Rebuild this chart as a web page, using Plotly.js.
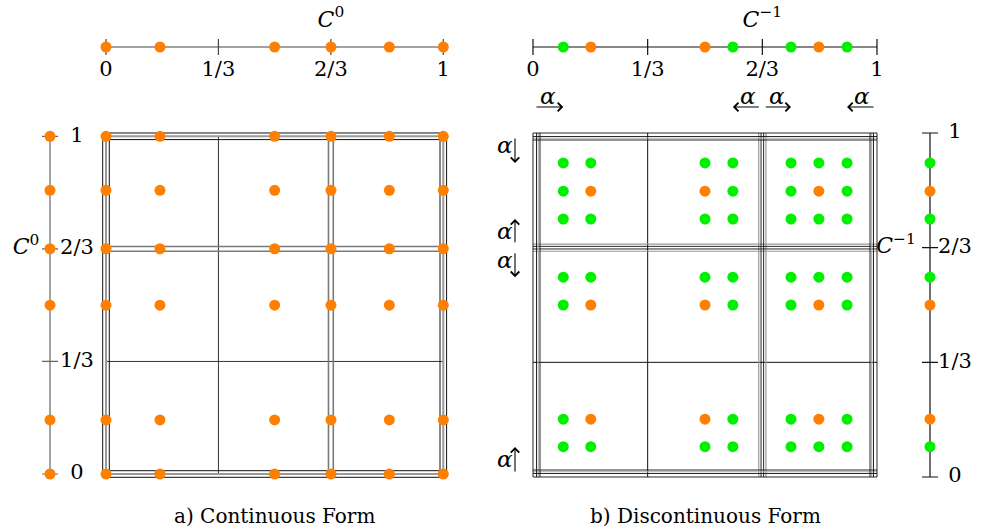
<!DOCTYPE html>
<html><head><meta charset="utf-8">
<script src="https://cdn.plot.ly/plotly-3.0.1.min.js"></script>
<style>html,body{margin:0;padding:0;background:#fff;} #chart{width:986px;height:529px;}</style>
</head><body><div id="chart"></div>
<script>
// ---------------- data ----------------
const gridTicks = [0, 0.3333, 0.6667, 1];
const gridTickText = ["0", "1/3", "2/3", "1"];
const contNodes = [0, 0.16, 0.5, 0.667, 0.84, 1];          // C0 nodes (orange)
const discOrangeNodes = [0.168, 0.5, 0.831];               // C-1 nodes kept from C0 (orange)
const discGreenNodes = [0.088, 0.581, 0.75, 0.913];        // C-1 nodes shifted by alpha (green)
const alphaFromX = [0, 0.6667, 0.6667, 1];
const alphaToX = [0.088, 0.581, 0.75, 0.913];
const alphaFromY = [1, 0.6667, 0.6667, 0];
const alphaToY = [0.913, 0.75, 0.581, 0.087];
const captions = ["a) Continuous Form", "b) Discontinuous Form"];
const spaceTitles = ["<i>C</i><sup>0</sup>", "<i>C</i><sup>−1</sup>"];
const alphaLabel = "<i>α</i>";

// ---------------- layout geometry (pixels) ----------------
const W = 986, H = 529;
const A = {x0: 106, x1: 443.3, y0: 474, y1: 136.3};
const B = {x0: 533, x1: 877, y0: 477, y1: 133};
const R = [-0.06, 1.06];
const ORANGE = '#ff8000', GREEN = '#00f000';
const FONT = 'DejaVu Serif';

function xdom(p0, p1, r) { const s = p1 - p0; return [(p0 + r[0]*s)/W, (p0 + r[1]*s)/W]; }
function ydom(p0, p1, r) { const s = p0 - p1; return [1 - (p0 - r[0]*s)/H, 1 - (p0 - r[1]*s)/H]; }

const sxA = A.x1 - A.x0, syA = A.y0 - A.y1;
const sxB = B.x1 - B.x0, syB = B.y0 - B.y1;

function gridLines(vals, offs, sx, sy, inward) {
  const x = [], y = [];
  vals.forEach(v => {
    const sgn = inward ? (v < 0.5 ? 1 : -1) : 1;
    offs.forEach(o => {
      const dx = v + sgn*o/sx; x.push(dx, dx, null); y.push(0, 1, null);
      const dy = v + sgn*o/sy; x.push(0, 1, null); y.push(dy, dy, null);
    });
  });
  return {x, y};
}
function lineTrace(seg, xa, ya, color, width) {
  return {type:'scatter', mode:'lines', x:seg.x, y:seg.y, xaxis:xa, yaxis:ya,
          line:{color:color, width:width}, hoverinfo:'skip', showlegend:false};
}
function dotTrace(xs, ys, colors, xa, ya) {
  return {type:'scatter', mode:'markers', x:xs, y:ys, xaxis:xa, yaxis:ya, cliponaxis:false,
          marker:{size:11, color:colors, line:{width:0}}, hoverinfo:'skip', showlegend:false};
}
function textTrace(xs, ys, texts, xa, ya, size) {
  return {type:'scatter', mode:'text', x:xs, y:ys, text:texts, xaxis:xa, yaxis:ya, cliponaxis:false,
          textposition:'middle center', textfont:{family:FONT, size:size||21, color:'#000'},
          hoverinfo:'skip', showlegend:false};
}

const traces = [];
const edges = [gridTicks[0], gridTicks[3]];
const third = [gridTicks[1]];
const twoThird = [gridTicks[2]];

// ---- panel a grid ----
traces.push(lineTrace(gridLines(third, [0], sxA, syA, false), 'x', 'y', '#333', 1));
traces.push(lineTrace(gridLines(twoThird, [-2.4, 2.4], sxA, syA, false), 'x', 'y', '#7a7a7a', 1.6));
traces.push(lineTrace(gridLines(edges, [0], sxA, syA, false), 'x', 'y', '#9a9a9a', 2));
traces.push(lineTrace(gridLines(edges, [-3.3, 3.3], sxA, syA, false), 'x', 'y', '#111', 1));

// ---- panel b grid ----
traces.push(lineTrace(gridLines(third, [0], sxB, syB, false), 'x2', 'y2', '#111', 1));
traces.push(lineTrace(gridLines(twoThird, [-3.6, 3.6], sxB, syB, false), 'x2', 'y2', '#999', 1.2));
traces.push(lineTrace(gridLines(twoThird, [-1.3, 1.3], sxB, syB, false), 'x2', 'y2', '#111', 0.9));
traces.push(lineTrace(gridLines(edges, [5.3], sxB, syB, true), 'x2', 'y2', '#aaa', 1.1));
traces.push(lineTrace(gridLines(edges, [0, 3.5, 7], sxB, syB, true), 'x2', 'y2', '#111', 0.9));

// ---- panel a dots ----
(function(){
  const xs = [], ys = [];
  contNodes.forEach(yv => contNodes.forEach(xv => { xs.push(xv); ys.push(yv); }));
  traces.push(dotTrace(xs, ys, ORANGE, 'x', 'y'));
})();

// ---- panel b dots ----
const discNodes = discGreenNodes.concat(discOrangeNodes).sort((a, b) => a - b);
const isOrange = v => discOrangeNodes.includes(v);
(function(){
  const xs = [], ys = [], cs = [];
  discNodes.forEach(yv => discNodes.forEach(xv => {
    xs.push(xv); ys.push(yv); cs.push(isOrange(xv) && isOrange(yv) ? ORANGE : GREEN);
  }));
  traces.push(dotTrace(xs, ys, cs, 'x2', 'y2'));
})();

// ---- 1D axes: top (horizontal) ----
function hAxis(xa, lineColor, nodes, colors, title) {
  traces.push(lineTrace({x:[gridTicks[0], gridTicks[3]], y:[0, 0]}, xa, 'y3', lineColor, 1.2));
  const tx = [], ty = [];
  gridTicks.forEach(t => { tx.push(t, t, null); ty.push(-8, 8, null); });
  traces.push(lineTrace({x:tx, y:ty}, xa, 'y3', lineColor, 1.2));
  traces.push(dotTrace(nodes, nodes.map(() => 0), colors, xa, 'y3'));
  traces.push(textTrace(gridTicks, gridTicks.map(() => -24), gridTickText, xa, 'y3'));
  traces.push(textTrace([gridTicks[2]], [26], [title], xa, 'y3', 22));
}
hAxis('x', '#444', contNodes, ORANGE, spaceTitles[0]);
hAxis('x2', '#111', discNodes, discNodes.map(v => isOrange(v) ? ORANGE : GREEN), spaceTitles[1]);

// ---- 1D axes: vertical ----
function vAxis(xa, ya, lineColor, nodes, colors, title, labelX, titleX) {
  traces.push(lineTrace({x:[0, 0], y:[gridTicks[0], gridTicks[3]]}, xa, ya, lineColor, 1.2));
  const tx = [], ty = [];
  gridTicks.forEach(t => { tx.push(-8, 8, null); ty.push(t, t, null); });
  traces.push(lineTrace({x:tx, y:ty}, xa, ya, lineColor, 1.2));
  traces.push(dotTrace(nodes.map(() => 0), nodes, colors, xa, ya));
  traces.push(textTrace(gridTicks.map(() => labelX), gridTicks, gridTickText, xa, ya));
  traces.push(textTrace([titleX], [gridTicks[2]], [title], xa, ya, 22));
}
vAxis('x5', 'y', '#666', contNodes, ORANGE, spaceTitles[0], 27, -24);
vAxis('x6', 'y2', '#111', discNodes, discNodes.map(v => isOrange(v) ? ORANGE : GREEN), spaceTitles[1], 25, -34);

// ---- alpha arrows (annotations) ----
const annotations = [];
alphaFromX.forEach((f, i) => {
  annotations.push({xref:'x2', yref:'y3', axref:'x2', ayref:'y3', x:alphaToX[i], y:-60, ax:f, ay:-60,
    showarrow:true, arrowhead:4, arrowsize:1.5, arrowwidth:1.1, arrowcolor:'#000', startstandoff:2, standoff:0, text:''});
  annotations.push({xref:'x2', yref:'y3', x:(f + alphaToX[i])/2, y:-49, text:alphaLabel, showarrow:false,
    font:{family:FONT, size:23, color:'#000'}, xanchor:'center', yanchor:'middle'});
});
alphaFromY.forEach((f, i) => {
  annotations.push({xref:'x7', yref:'y2', axref:'x7', ayref:'y2', x:0, y:alphaToY[i], ax:0, ay:f,
    showarrow:true, arrowhead:4, arrowsize:1.5, arrowwidth:1.1, arrowcolor:'#000', startstandoff:4, standoff:0, text:''});
  annotations.push({xref:'x7', yref:'y2', x:-10, y:(f + alphaToY[i])/2 + 0.008, text:alphaLabel, showarrow:false,
    font:{family:FONT, size:23, color:'#000'}, xanchor:'center', yanchor:'middle'});
});
// captions
annotations.push({xref:'x', yref:'paper', x:0.5, y:1 - 516/H, text:captions[0], showarrow:false,
  font:{family:FONT, size:20, color:'#000'}, xanchor:'center', yanchor:'middle'});
annotations.push({xref:'x2', yref:'paper', x:0.5, y:1 - 516/H, text:captions[1], showarrow:false,
  font:{family:FONT, size:20, color:'#000'}, xanchor:'center', yanchor:'middle'});

const hidden = {visible:false, showgrid:false, zeroline:false, fixedrange:true, autorange:false};
const layout = {
  width:W, height:H, margin:{l:0, r:0, t:0, b:0, pad:0},
  paper_bgcolor:'#fff', plot_bgcolor:'rgba(0,0,0,0)', showlegend:false, hovermode:false,
  font:{family:FONT},
  xaxis: Object.assign({}, hidden, {domain:xdom(A.x0, A.x1, R), range:R, anchor:'y'}),
  yaxis: Object.assign({}, hidden, {domain:ydom(A.y0, A.y1, R), range:R, anchor:'x'}),
  xaxis2: Object.assign({}, hidden, {domain:xdom(B.x0, B.x1, R), range:R, anchor:'y2'}),
  yaxis2: Object.assign({}, hidden, {domain:ydom(B.y0, B.y1, R), range:R, anchor:'x2'}),
  yaxis3: Object.assign({}, hidden, {domain:[1 - 125/H, 1], range:[47 - 125, 47], anchor:'x'}),
  xaxis5: Object.assign({}, hidden, {domain:[0, 100/W], range:[-50, 50], anchor:'y'}),
  xaxis6: Object.assign({}, hidden, {domain:[870/W, 1], range:[-60, 56], anchor:'y2'}),
  xaxis7: Object.assign({}, hidden, {domain:[480/W, 530/W], range:[-35, 15], anchor:'y2'}),
  annotations: annotations
};
Plotly.newPlot('chart', traces, layout, {staticPlot:true, displayModeBar:false});
</script>
</body></html>
